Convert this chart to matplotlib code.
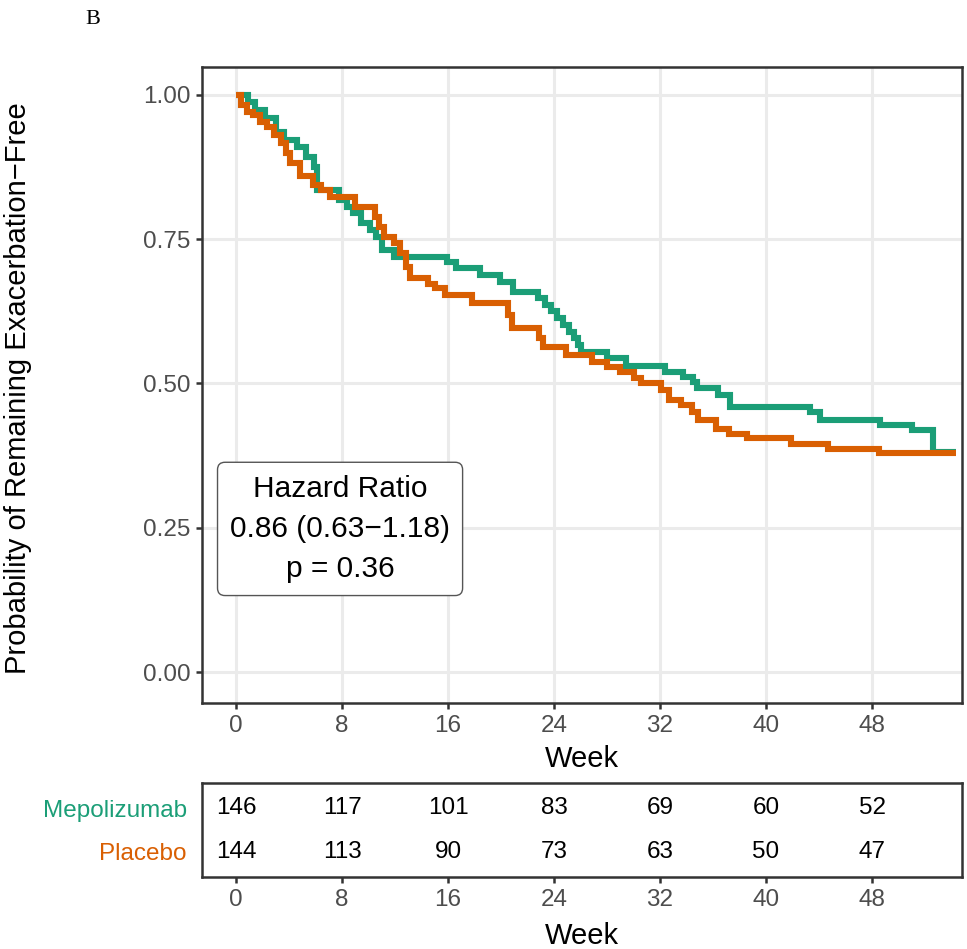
"""
Kaplan-Meier style plot: time to first exacerbation, mepolizumab vs placebo,
with a numbers-at-risk table underneath.
"""

import matplotlib
matplotlib.use("Agg")
import matplotlib.pyplot as plt

plt.rcParams["font.family"] = ["Liberation Sans", "DejaVu Sans"]

GREEN = "#1B9E77"
ORANGE = "#D95F02"
TICK_GREY = "#4D4D4D"
FRAME = "#333333"

# step curves (week of step, survival after step)
mepo_week = [0, 0.9, 1.4, 2.2, 3.0, 3.6, 4.6, 5.3, 5.9, 6.1, 7.8, 8.4, 8.8,
             9.4, 10.1, 10.6, 11.0, 11.9, 15.9, 16.6, 18.4, 19.9, 20.9, 22.8,
             23.3, 23.8, 24.2, 24.7, 25.1, 25.5, 25.8, 26.0, 28.0, 29.4, 32.4,
             33.7, 34.5, 34.8, 36.4, 37.3, 43.3, 44.1, 48.6, 51.0, 52.6]
mepo_surv = [1.0, 0.988, 0.974, 0.960, 0.936, 0.922, 0.910, 0.893, 0.876,
             0.835, 0.818, 0.806, 0.795, 0.778, 0.766, 0.754, 0.731, 0.720,
             0.711, 0.700, 0.688, 0.676, 0.659, 0.648, 0.636, 0.625, 0.613,
             0.601, 0.590, 0.578, 0.567, 0.555, 0.544, 0.530, 0.520, 0.512,
             0.503, 0.492, 0.480, 0.460, 0.451, 0.437, 0.428, 0.419, 0.381]

pbo_week = [0, 0.4, 0.8, 1.3, 1.8, 2.3, 2.9, 3.4, 3.8, 4.1, 4.8, 5.8, 6.4,
            7.1, 9.0, 10.5, 10.8, 11.2, 11.9, 12.4, 12.8, 13.1, 14.5, 15.0,
            15.8, 17.8, 20.5, 20.8, 22.9, 23.2, 24.9, 26.9, 28.0, 29.0, 30.0,
            30.6, 32.1, 32.7, 33.6, 34.4, 34.9, 36.2, 37.2, 38.6, 41.9, 44.7,
            48.5]
pbo_surv = [1.0, 0.983, 0.971, 0.965, 0.954, 0.945, 0.931, 0.916, 0.899,
            0.882, 0.860, 0.844, 0.835, 0.824, 0.806, 0.789, 0.772, 0.754,
            0.743, 0.727, 0.702, 0.682, 0.673, 0.665, 0.654, 0.640, 0.619,
            0.596, 0.578, 0.564, 0.549, 0.538, 0.529, 0.520, 0.509, 0.500,
            0.489, 0.471, 0.463, 0.451, 0.437, 0.422, 0.413, 0.405, 0.396,
            0.386, 0.379]
LAST_WEEK = 54.3

risk_weeks = [0, 8, 16, 24, 32, 40, 48]
risk_mepo = [146, 117, 101, 83, 69, 60, 52]
risk_pbo = [144, 113, 90, 73, 63, 50, 47]
groups = ["Mepolizumab", "Placebo"]

y_ticks = [0.0, 0.25, 0.5, 0.75, 1.0]
XLIM = (-2.57, 54.79)


def style_frame(a):
    for s in a.spines.values():
        s.set_color(FRAME)
        s.set_linewidth(1.8)
    a.tick_params(colors=FRAME, width=1.8, length=4.5, labelsize=17.5,
                  labelcolor=TICK_GREY, pad=4)


fig = plt.figure(figsize=(9.67, 9.49), dpi=100)

# main survival panel
ax = fig.add_axes([202 / 967, 1 - 703 / 949, 760 / 967, 636 / 949])
ax.step(mepo_week + [LAST_WEEK], mepo_surv + [mepo_surv[-1]], where="post",
        color=GREEN, lw=4.4, solid_capstyle="butt", solid_joinstyle="miter")
ax.step(pbo_week + [LAST_WEEK], pbo_surv + [pbo_surv[-1]], where="post",
        color=ORANGE, lw=4.4, solid_capstyle="butt", solid_joinstyle="miter")
ax.set_xlim(*XLIM)
ax.set_ylim(-0.0537, 1.0485)
ax.set_xticks(risk_weeks)
ax.set_yticks(y_ticks, [f"{v:.2f}" for v in y_ticks])
ax.grid(color="#EBEBEB", lw=2.2)
ax.set_axisbelow(True)
style_frame(ax)
ax.set_xlabel("Week", fontsize=21, labelpad=6)

ax.text(7.85, 0.248, "Hazard Ratio\n0.86 (0.63\u22121.18)\np = 0.36",
        ha="center", va="center", fontsize=21.5, linespacing=1.55,
        bbox=dict(boxstyle="round,pad=0.42,rounding_size=0.25", fc="white",
                  ec="#555555", lw=1.0))

fig.text(18 / 967, 1 - 388 / 949, "Probability of Remaining Exacerbation\u2212Free",
         rotation=90, ha="center", va="center", fontsize=21)

fig.text(93 / 967, 1 - 20 / 949, "B", ha="center", va="center", fontsize=16,
         family=["Liberation Serif", "DejaVu Serif"])

# numbers at risk
tab = fig.add_axes([202 / 967, 1 - 877 / 949, 760 / 967, 94 / 949])
tab.set_xlim(*XLIM)
tab.set_ylim(0.43, 2.57)
tab.set_xticks(risk_weeks)
tab.set_yticks([2, 1], groups)
style_frame(tab)
tab.tick_params(axis="y", length=0, pad=11)
for lbl, c in zip(tab.get_yticklabels(), [GREEN, ORANGE]):
    lbl.set_color(c)
for wk, n_m, n_p in zip(risk_weeks, risk_mepo, risk_pbo):
    tab.text(wk, 2, str(n_m), ha="center", va="center", fontsize=17.5)
    tab.text(wk, 1, str(n_p), ha="center", va="center", fontsize=17.5)
tab.set_xlabel("Week", fontsize=21, labelpad=8)

fig.savefig("out.png", dpi=100)
